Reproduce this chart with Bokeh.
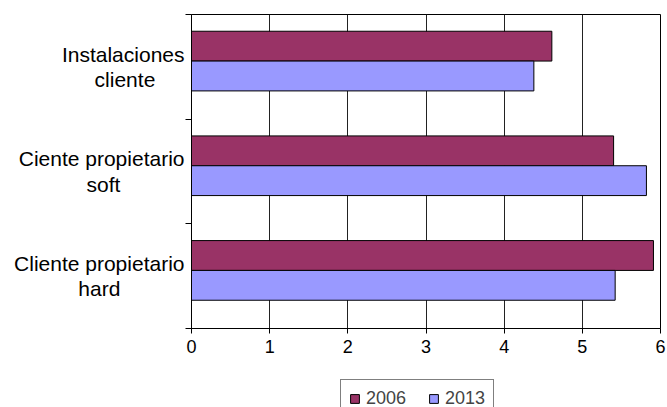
from bokeh.plotting import figure
from bokeh.models import Range1d, FixedTicker, Legend, LegendItem, ColumnDataSource, LinearAxis
from bokeh.layouts import column
from bokeh.embed import file_html
from bokeh.resources import INLINE

# data (top to bottom as in the chart)
categories = ["Instalaciones\ncliente", "Ciente propietario\nsoft", "Cliente propietario\nhard"]
series_names = ["2006", "2013"]
values_2006 = [4.61, 5.40, 5.91]
values_2013 = [4.38, 5.82, 5.42]
x_ticks = [0, 1, 2, 3, 4, 5, 6]

colors = ["#993366", "#9999FF"]
FONT = "Liberation Sans"

# Arial / Liberation Sans advance widths (1/1000 em) used to centre the
# lines of each two-line category label inside its right-aligned block
_W = {"C": 722, "I": 278, "a": 556, "c": 500, "d": 556, "e": 556, "f": 278,
      "h": 556, "i": 222, "l": 222, "n": 556, "o": 556, "p": 556, "r": 333,
      "s": 500, "t": 278, " ": 278}


def _centred(label):
    lines = label.split("\n")
    widths = [sum(_W.get(ch, 556) for ch in ln) for ln in lines]
    wmax = max(widths)
    out = []
    for ln, w in zip(lines, widths):
        pad = int(round((wmax - w) / 2 / _W[" "]))
        out.append(ln + "\u00a0" * pad)
    return "\n".join(out)


n = len(categories)
base = [n - 1 - i for i in range(n)]
bar_h = 0.285
pair_center = 0.555

p = figure(width=667, height=370, output_backend="svg", toolbar_location=None,
           x_range=Range1d(0, 6), y_range=Range1d(0, n), y_axis_location=None,
           min_border_left=191, min_border_right=7, min_border_top=14, min_border_bottom=42)
p.outline_line_color = "black"
p.outline_line_width = 1
p.background_fill_color = "white"

src = ColumnDataSource(dict(
    y06=[b + pair_center + bar_h / 2 for b in base],
    y13=[b + pair_center - bar_h / 2 for b in base],
    v06=values_2006, v13=values_2013))

r1 = p.hbar(y="y06", right="v06", left=0, height=bar_h, source=src,
            fill_color=colors[0], line_color="black", line_width=1)
r2 = p.hbar(y="y13", right="v13", left=0, height=bar_h, source=src,
            fill_color=colors[1], line_color="black", line_width=1)

# x axis
p.xaxis.ticker = FixedTicker(ticks=x_ticks)
p.xaxis.major_label_text_font = FONT
p.xaxis.major_label_text_font_size = "18px"
p.xaxis.major_label_text_color = "black"
p.xaxis.major_tick_out = 5
p.xaxis.major_tick_in = 0
p.xaxis.minor_tick_line_color = None
p.xaxis.axis_line_color = "black"
p.xaxis.major_tick_line_color = "black"
p.xaxis.major_label_standoff = 6

# category axis: labels at category centres, tick marks at category boundaries
centres = [b + 0.5 for b in base]
cat_axis = LinearAxis(ticker=FixedTicker(ticks=centres, minor_ticks=list(range(n + 1))),
                      major_label_overrides={c: _centred(t) for c, t in zip(centres, categories)},
                      major_tick_line_color=None, major_tick_out=0, major_tick_in=0,
                      minor_tick_line_color="black", minor_tick_out=6, minor_tick_in=0,
                      axis_line_color="black", major_label_standoff=1,
                      major_label_text_font=FONT, major_label_text_font_size="21px",
                      major_label_text_color="black", major_label_text_line_height=1.1)
p.add_layout(cat_axis, "left")

p.xgrid.ticker = FixedTicker(ticks=x_ticks)
p.xgrid.grid_line_color = "#222222"
p.xgrid.grid_line_width = 1
p.ygrid.grid_line_color = None

# legend strip below
lf = figure(width=667, height=37, output_backend="svg", toolbar_location=None,
            x_range=Range1d(0, 1), y_range=Range1d(0, 1),
            x_axis_location=None, y_axis_location=None,
            min_border=0, min_border_left=0, min_border_right=0,
            min_border_top=0, min_border_bottom=0)
lf.outline_line_color = None
lf.xgrid.grid_line_color = None
lf.ygrid.grid_line_color = None
# proxy renderers for the legend swatches (drawn outside the visible range)
d1 = lf.hbar(y=[-5], right=[0.5], left=0, height=0.1, fill_color=colors[0], line_color="black")
d2 = lf.hbar(y=[-5], right=[0.5], left=0, height=0.1, fill_color=colors[1], line_color="black")

legend = Legend(items=[LegendItem(label=series_names[0], renderers=[d1]),
                       LegendItem(label=series_names[1], renderers=[d2])],
                orientation="horizontal", location=(149, -11),
                border_line_color="black", border_line_width=1,
                background_fill_color="white", background_fill_alpha=1,
                label_text_font=FONT, label_text_font_size="18px",
                glyph_width=11, glyph_height=11, label_standoff=6,
                spacing=22, padding=8, margin=0, label_height=18)
lf.add_layout(legend, "center")

open("out.html", "w").write(file_html(column(p, lf, spacing=0), INLINE))
